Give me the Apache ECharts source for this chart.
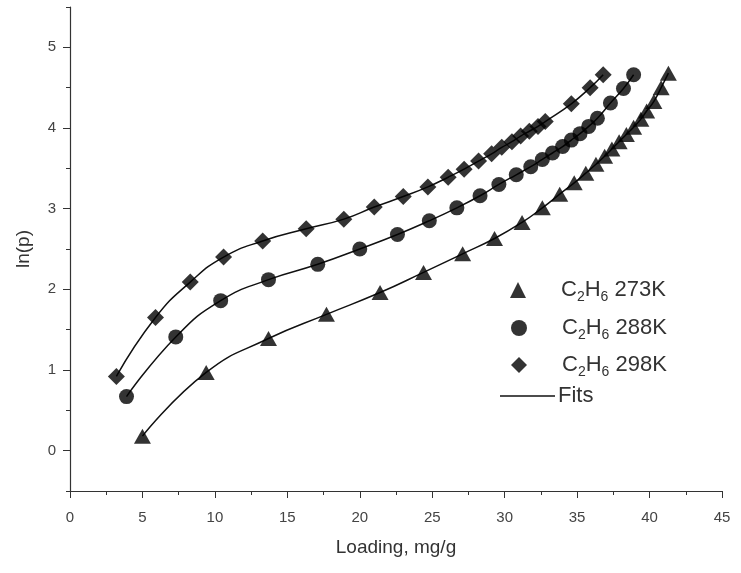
<!DOCTYPE html>
<html>
<head>
<meta charset="utf-8">
<script src="https://cdn.jsdelivr.net/npm/echarts@6/dist/echarts.min.js"></script>
<style>
html,body{margin:0;padding:0;background:#fff;}
#chart{width:741px;height:573px;}
</style>
</head>
<body>
<div id="chart"></div>
<script>
// ---- data ----
const seriesNames = ['C2H6 273K', 'C2H6 288K', 'C2H6 298K'];
const fitsName = 'Fits';

const data273 = [[5.0,0.18],[9.4,0.97],[13.7,1.39],[17.7,1.69],[21.4,1.96],[24.4,2.21],[27.1,2.44],[29.3,2.63],[31.2,2.83],[32.6,3.01],[33.8,3.18],[34.8,3.32],[35.6,3.44],[36.3,3.55],[36.9,3.65],[37.4,3.74],[37.9,3.83],[38.4,3.92],[38.9,4.01],[39.4,4.11],[39.8,4.21],[40.3,4.33],[40.8,4.50],[41.3,4.68]];
const data288 = [[3.9,0.67],[7.3,1.41],[10.4,1.86],[13.7,2.12],[17.1,2.31],[20.0,2.50],[22.6,2.68],[24.8,2.85],[26.7,3.01],[28.3,3.16],[29.6,3.30],[30.8,3.42],[31.8,3.52],[32.6,3.61],[33.3,3.69],[34.0,3.77],[34.6,3.85],[35.2,3.93],[35.8,4.02],[36.4,4.12],[37.3,4.31],[38.2,4.49],[38.9,4.66]];
const data298 = [[3.2,0.92],[5.9,1.65],[8.3,2.09],[10.6,2.40],[13.3,2.60],[16.3,2.75],[18.9,2.87],[21.0,3.02],[23.0,3.15],[24.7,3.27],[26.1,3.39],[27.2,3.49],[28.2,3.59],[29.1,3.68],[29.8,3.76],[30.5,3.83],[31.1,3.90],[31.7,3.96],[32.3,4.02],[32.8,4.08],[34.6,4.30],[35.9,4.50],[36.8,4.66]];

const xTickValues = [0,5,10,15,20,25,30,35,40,45];
const yTickValues = [0,1,2,3,4,5];
const yMinorTickValues = [-0.5,0.5,1.5,2.5,3.5,4.5,5.5];

const xAxisTitle = 'Loading, mg/g';
const yAxisTitle = 'ln(p)';

// ---- chart ----
const FONT = 'Liberation Sans, Arial, sans-serif';
const AXIS_COLOR = '#333';
const LABEL_COLOR = '#444';

const legendFormatter = function (name) {
  return '{g|}' + name.replace(/^C2H6/, 'C{s|2}H{s|6}');
};
const legendText = {
  fontFamily: FONT, fontSize: 22, color: '#333',
  rich: {
    g: { width: 30 },
    s: { fontFamily: FONT, fontSize: 14, color: '#333', padding: [14, 0, 0, 0] }
  }
};

function markerLegend(name, icon, left, top) {
  return {
    data: [{ name: name, icon: icon }],
    left: left, top: top,
    itemWidth: 16, itemHeight: 16, itemGap: 0,
    formatter: legendFormatter, textStyle: legendText,
    selectedMode: false, padding: 0
  };
}

const option = {
  animation: false,
  backgroundColor: '#fff',
  grid: { left: 70, right: 19, top: 7, bottom: 82, containLabel: false },
  legend: [
    markerLegend(seriesNames[0], 'triangle', 510, 279),
    markerLegend(seriesNames[1], 'circle', 511, 317),
    markerLegend(seriesNames[2], 'diamond', 511, 354),
    {
      data: [{ name: fitsName, icon: 'rect' }],
      left: 500, top: 385, itemWidth: 55, itemHeight: 1.5, itemGap: 0,
      textStyle: { fontFamily: FONT, fontSize: 22, color: '#333', padding: [0, 0, 0, -2] },
      selectedMode: false, padding: 0
    }
  ],
  xAxis: {
    type: 'value', min: xTickValues[0], max: xTickValues[xTickValues.length - 1], interval: 5,
    name: xAxisTitle, nameLocation: 'middle', nameGap: 47,
    nameTextStyle: { fontFamily: FONT, fontSize: 19, color: '#333' },
    axisLine: { show: true, onZero: false, lineStyle: { color: AXIS_COLOR, width: 1.2 } },
    axisTick: { show: true, length: 7, lineStyle: { color: AXIS_COLOR } },
    minorTick: { show: true, splitNumber: 2, length: 4, lineStyle: { color: AXIS_COLOR } },
    axisLabel: { fontFamily: FONT, fontSize: 15, color: LABEL_COLOR, margin: 19 },
    splitLine: { show: false }
  },
  yAxis: [
    {
      type: 'value', min: -0.5, max: 5.5,
      name: yAxisTitle, nameLocation: 'middle', nameGap: 37, nameRotate: 90,
      nameTextStyle: { fontFamily: FONT, fontSize: 19, color: '#333' },
      axisLine: { show: true, onZero: false, lineStyle: { color: AXIS_COLOR, width: 1.2 } },
      axisTick: { show: true, length: 7, customValues: yTickValues, lineStyle: { color: AXIS_COLOR } },
      axisLabel: { fontFamily: FONT, fontSize: 15, color: LABEL_COLOR, margin: 14, customValues: yTickValues },
      splitLine: { show: false }
    },
    {
      type: 'value', min: -0.5, max: 5.5, position: 'left',
      axisLine: { show: false, onZero: false },
      axisTick: { show: true, length: 4, customValues: yMinorTickValues, lineStyle: { color: AXIS_COLOR } },
      axisLabel: { show: false },
      splitLine: { show: false }
    }
  ],
  series: []
};

const allData = [data273, data288, data298];
const symbols = ['triangle', 'circle', 'diamond'];
const sizes = [[17, 15], 15, 17];
allData.forEach(function (d, i) {
  option.series.push({
    name: fitsName, type: 'line', data: d, smooth: 0.5,
    showSymbol: false, symbol: 'none',
    lineStyle: { color: '#111', width: 1.5 }, itemStyle: { color: '#111' },
    z: 2, silent: true
  });
  option.series.push({
    name: seriesNames[i], type: 'scatter', data: d,
    symbol: symbols[i], symbolSize: sizes[i],
    itemStyle: { color: '#000' }, z: 3, silent: true
  });
});

const chart = echarts.init(document.getElementById('chart'), null, { renderer: 'canvas' });
chart.setOption(option);
</script>
</body>
</html>
